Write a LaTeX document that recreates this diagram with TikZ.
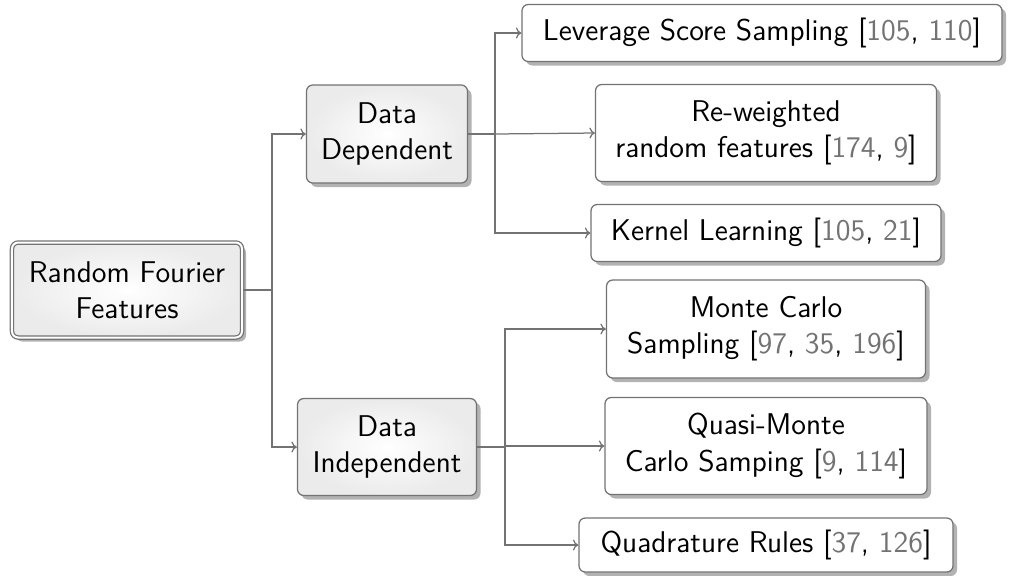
\documentclass[tikz,border=0pt]{standalone}
\usepackage{xcolor}
\usetikzlibrary{shadows,arrows.meta}
\renewcommand{\familydefault}{\sfdefault}
\newcommand\refnum[1]{\textcolor{black!55}{#1}}
\tikzset{
  box/.style={draw=black!55, line width=0.5pt, rounded corners=2.5pt, align=center,
    font=\fontsize{12}{14.5}\selectfont, inner sep=2pt,
    drop shadow={shadow xshift=1.6pt, shadow yshift=-1.6pt, fill=black!30, opacity=1}},
  leaf/.style={box, fill=white},
  mid/.style={box, inner color=white, outer color=black!8},
  rootbox/.style={box, double=white, double distance=0.8pt, inner color=white, outer color=black!8},
  link/.style={draw=black!55, line width=0.5pt},
  arr/.style={link, -{To[length=2.2pt,width=4.4pt]}},
}
\begin{document}
\begin{tikzpicture}[x=0.4pt,y=-0.4pt]
\useasboundingbox (0,0) rectangle (1010,575);
\node[rootbox, minimum width=92pt, minimum height=38pt] (root) at (127,290) {Random Fourier\\Features};
\node[mid, minimum width=64.4pt, minimum height=39.2pt] (dd) at (387,134) {Data\\Dependent};
\node[mid, minimum width=71.6pt, minimum height=38.8pt] (di) at (387,447) {Data\\Independent};
\node[leaf, minimum width=192pt, minimum height=22.8pt] (lev) at (762,33) {Leverage Score Sampling [\refnum{105}, \refnum{110}]};
\node[leaf, minimum width=136.4pt, minimum height=38.8pt] (rw) at (766,133) {Re-weighted\\random features [\refnum{174}, \refnum{9}]};
\node[leaf, minimum width=140pt, minimum height=22.8pt] (kl) at (766,233) {Kernel Learning [\refnum{105}, \refnum{21}]};
\node[leaf, minimum width=127.6pt, minimum height=39.2pt] (mc) at (766,329) {Monte Carlo\\Sampling [\refnum{97}, \refnum{35}, \refnum{196}]};
\node[leaf, minimum width=128.8pt, minimum height=38.8pt] (qmc) at (766,446) {Quasi-Monte\\Carlo Samping [\refnum{9}, \refnum{114}]};
\node[leaf, minimum width=149.6pt, minimum height=21.6pt] (qr) at (766,545) {Quadrature Rules [\refnum{37}, \refnum{126}]};
% branch points
\coordinate (j0) at (272,290);
\coordinate (j1) at (495,134);
\coordinate (j2) at (505,447);
\draw[link] (root.east) -- (j0);
\draw[arr] (j0) |- (dd.west);
\draw[arr] (j0) |- (di.west);
\draw[link] (dd.east) -- (j1);
\draw[arr] (j1) |- (lev.west);
\draw[arr] (j1) -- (rw.west);
\draw[arr] (j1) |- (kl.west);
\draw[link] (di.east) -- (j2);
\draw[arr] (j2) |- (mc.west);
\draw[arr] (j2) |- (qmc.west);
\draw[arr] (j2) |- (qr.west);
\end{tikzpicture}
\end{document}
